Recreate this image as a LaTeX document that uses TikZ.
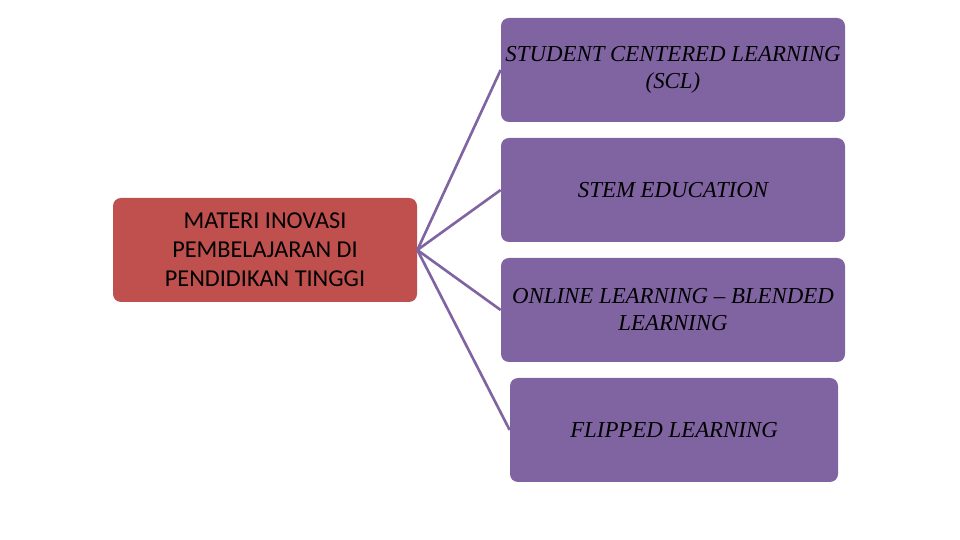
\documentclass[tikz,border=0pt]{standalone}
\usepackage{fontspec}
\setmainfont{Liberation Serif}
\newfontfamily\boxsans{Carlito}
\definecolor{topicpurple}{HTML}{8064A2}
\definecolor{mainred}{HTML}{C0504D}
\tikzset{
  mainbox/.style={fill=mainred, rounded corners=0.16cm, minimum width=6.08cm, minimum height=2.08cm,
    align=center, font=\boxsans\fontsize{13.8}{16.5}\selectfont},
  topicbox/.style={fill=topicpurple, rounded corners=0.16cm, minimum width=6.88cm, minimum height=2.08cm,
    align=center, font=\itshape\fontsize{13}{15.4}\selectfont, inner sep=1pt},
  link/.style={draw=topicpurple, line width=1.5pt}
}

\begin{document}
\begin{tikzpicture}
    \useasboundingbox (0,0) rectangle (19.2,10.8);
    % Define the main box on the left
    \node[mainbox] (materi) at (5.30,5.80) {MATERI INOVASI\\PEMBELAJARAN DI\\PENDIDIKAN TINGGI};

    % Draw the topic boxes on the right
    \node[topicbox] (scl) at (13.46,9.40) {STUDENT CENTERED LEARNING\\(SCL)};
    \node[topicbox] (stem) at (13.46,7.00) {STEM EDUCATION};
    \node[topicbox] (online) at (13.46,4.60) {ONLINE LEARNING -- BLENDED\\LEARNING};
    \node[topicbox, minimum width=6.56cm] (flipped) at (13.48,2.20) {FLIPPED LEARNING};

    % Connect the main box with every topic
    \foreach \topic in {scl,stem,online,flipped}
        \draw[link] (materi.east) -- (\topic.west);
\end{tikzpicture}
\end{document}
